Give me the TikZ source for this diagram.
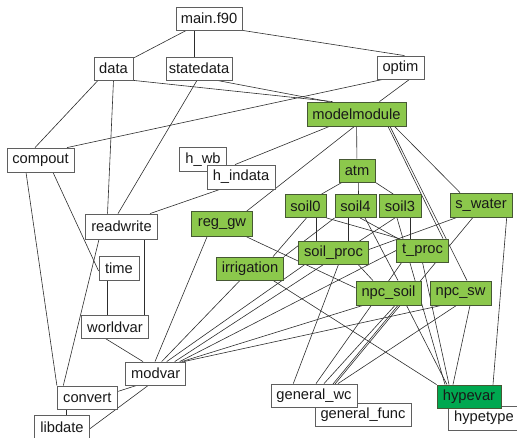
\documentclass[tikz,border=0pt]{standalone}
\usepackage{fontspec}
\setmainfont{Liberation Sans}
\pgfdeclarelayer{background}
\pgfsetlayers{background,main}
\definecolor{procgreen}{RGB}{140,200,76}
\definecolor{coregreen}{RGB}{0,168,80}
\definecolor{greenedge}{RGB}{70,88,52}
\definecolor{boxgray}{RGB}{95,95,95}
\definecolor{linecol}{RGB}{45,45,45}
\definecolor{textcol}{RGB}{25,25,25}
\newcommand{\modfont}{\fontsize{14.7}{16}\selectfont}
\tikzset{
  mod/.style={draw=boxgray, fill=white, line width=0.8pt, inner sep=0pt,
    minimum height=23pt, font=\modfont, text=textcol},
  proc/.style={mod, fill=procgreen, draw=greenedge},
  core/.style={mod, fill=coregreen, draw=greenedge},
  link/.style={draw=linecol, line width=0.6pt},
}
\begin{document}
\begin{tikzpicture}[x=1pt,y=-1pt]
\useasboundingbox (0,0) rectangle (517,438);

% ---- modules ----
\node[mod, minimum width=66pt] (main) at (209,18.5) {main.f90};
\node[mod, minimum width=39pt] (data) at (113.5,68.5) {data};
\node[mod, minimum width=66pt] (statedata) at (199,68.5) {statedata};
\node[mod, minimum width=47pt] (optim) at (400.5,67.5) {optim};
\node[proc, minimum width=99pt, minimum height=24pt] (modelmodule) at (356.5,114) {modelmodule};
\node[mod, minimum width=67pt, minimum height=24pt] (compout) at (40.5,160) {compout};
\node[mod, minimum width=47pt, minimum height=24pt] (h_wb) at (203,159.5) {h\_wb};
\node[mod, minimum width=68pt, minimum height=24pt] (h_indata) at (241,177) {h\_indata};
\node[proc, minimum width=36pt] (atm) at (357,170.5) {atm};
\node[proc, minimum width=41pt] (soil0) at (305.5,206) {soil0};
\node[proc, minimum width=41pt] (soil4) at (355.5,206) {soil4};
\node[proc, minimum width=42pt] (soil3) at (400,206) {soil3};
\node[proc, minimum width=62pt, minimum height=24pt] (s_water) at (481,205) {s\_water};
\node[proc, minimum width=61pt, minimum height=25pt] (reg_gw) at (222,224) {reg\_gw};
\node[mod, minimum width=72pt, minimum height=25pt] (readwrite) at (121.5,226.5) {readwrite};
\node[proc, minimum width=67pt] (irrigation) at (250,268.5) {irrigation};
\node[proc, minimum width=70pt] (soil_proc) at (333.5,252.5) {soil\_proc};
\node[proc, minimum width=52pt] (t_proc) at (422.5,250.5) {t\_proc};
\node[mod, minimum width=40pt, minimum height=24pt] (time) at (119,268) {time};
\node[proc, minimum width=65pt, minimum height=24pt] (npc_soil) at (388.5,293) {npc\_soil};
\node[proc, minimum width=61pt, minimum height=24pt] (npc_sw) at (460.5,293) {npc\_sw};
\node[mod, minimum width=67pt] (worldvar) at (115,327) {worldvar};
\node[mod, minimum width=60pt] (modvar) at (155.7,373.5) {modvar};
\node[mod, minimum width=60pt] (convert) at (87.3,397.5) {convert};
\node[mod, minimum width=55pt, minimum height=24pt] (libdate) at (62,427) {libdate};
\node[mod, minimum width=96pt] (general_func) at (363,414.5) {general\_func};
\node[mod, minimum width=86pt] (general_wc) at (314,395.5) {general\_wc};
\node[mod, minimum width=72pt, minimum height=24pt] (hypetype) at (484,418) {hypetype};
\node[core, minimum width=64pt] (hypevar) at (469,396.5) {hypevar};

% ---- use relations ----
\begin{pgfonlayer}{background}
\draw[link] (main) -- (data);
\draw[link] ([xshift=-15pt]main.south) -- ([xshift=-5pt]statedata.north);
\draw[link] (main.south east) -- ([xshift=4pt]optim.north);
\draw[link] ([xshift=-15.5pt]data.south) -- ([xshift=-5.5pt]compout.north);
\draw[link] (data.south) -- ([xshift=-14pt]readwrite.north);
\draw[link] (data.south east) -- ([xshift=-24pt]modelmodule.north);
\draw[link] ([xshift=18pt]statedata.south) -- ([xshift=-28pt]modelmodule.north);
\draw[link] ([xshift=-2pt]statedata.south) -- ([xshift=-3.5pt]readwrite.north);
\draw[link] ([xshift=-17.5pt]optim.south) -- ([xshift=26.5pt]compout.north);
\draw[link] ([xshift=9pt]optim.south) -- ([xshift=23pt]modelmodule.north);
\draw[link] ([xshift=-14.5pt]compout.south) -- (convert.north west);
\draw[link] ([xshift=12.5pt]compout.south) -- ([yshift=-3pt]time.west);
\draw[link] ([xshift=-22.5pt]readwrite.south) -- ([xshift=-24pt]convert.north);
\draw[link] ([xshift=22.5pt]readwrite.south) -- ([xshift=29pt]worldvar.north);
\draw[link] ([xshift=-12pt]time.south) -- ([xshift=-8pt]worldvar.north);
\draw[link] ([xshift=-9pt]worldvar.south) -- ([xshift=-12.7pt]modvar.north);
\draw[link] ([xshift=-19pt]modvar.south) -- ([yshift=6pt]convert.east);
\draw[link] ([xshift=-7.4pt]modvar.south) -- ([yshift=-1.7pt]libdate.east);
\draw[link] ([xshift=-20.6pt]convert.south) -- ([xshift=4.7pt]libdate.north);
\draw[link] ([xshift=-27pt]modelmodule.south) -- ([xshift=-6pt]h_indata.north);
\draw[link] ([xshift=-21pt]h_indata.south) -- ([xshift=28.5pt]readwrite.north);
\draw[link] ([xshift=-2pt]modelmodule.south) -- ([xshift=24.7pt]reg_gw.north);
\draw[link] (modelmodule) -- (atm);
\draw[link] ([xshift=38pt]modelmodule.south) -- ([xshift=-21pt]s_water.north);
\draw[link] ([xshift=31.5pt]modelmodule.south) -- ([xshift=20.5pt]t_proc.north);
\draw[link] ([xshift=33.5pt]modelmodule.south) -- ([xshift=6.5pt]npc_sw.north);
\draw[link] ([xshift=-15pt]atm.south) -- ([xshift=16pt]soil0.north);
\draw[link] ([xshift=1.3pt]atm.south) -- ([xshift=3pt]soil4.north);
\draw[link] (atm.south east) -- ([xshift=-6.7pt]soil3.north);
\draw[link] ([xshift=11pt]soil0.south) -- ([xshift=-17pt]soil_proc.north);
\draw[link] (soil0.south east) -- ([xshift=3pt]t_proc.north west);
\draw[link] ([xshift=1pt]soil0.south) -- ([xshift=23pt]irrigation.north);
\draw[link] ([xshift=-7.5pt]soil4.south) -- ([xshift=14.5pt]soil_proc.north);
\draw[link] ([xshift=4.5pt]soil4.south) -- ([xshift=2pt]t_proc.north west);
\draw[link] ([xshift=9.5pt]soil4.south) -- ([xshift=9.5pt]npc_soil.north);
\draw[link] (soil4.south west) -- (irrigation.north east);
\draw[link] ([xshift=-5pt]soil3.south) -- ([xshift=19pt]modvar.north);
\draw[link] ([xshift=10pt]soil3.south) -- ([xshift=-12.5pt]t_proc.north);
\draw[link] ([xshift=-3pt]soil3.south) -- ([xshift=-24pt]hypevar.north);
\draw[link] (t_proc.south) -- ([xshift=-20pt]hypevar.north);
\draw[link] ([xshift=-24pt]s_water.south) -- ([yshift=3pt]soil_proc.east);
\draw[link] ([xshift=-8pt]s_water.south) -- ([xshift=-43.4pt]general_func.north);
\draw[link] ([xshift=25.7pt]s_water.south) -- ([xshift=24pt]hypevar.north);
\draw[link] ([xshift=-15pt]reg_gw.south) -- ([xshift=-0.7pt]modvar.north);
\draw[link] ([xshift=24.7pt]reg_gw.south) -- ([yshift=5pt]npc_soil.west);
\draw[link] ([xshift=-10pt]irrigation.south) -- ([xshift=6pt]modvar.north);
\draw[link] ([xshift=23pt]irrigation.south) -- (hypevar.north west);
\draw[link] ([xshift=24.5pt]soil_proc.south) -- ([xshift=-15.5pt]npc_soil.north);
\draw[link] ([xshift=5pt]soil_proc.south) -- ([xshift=-20.7pt]general_wc.north);
\draw[link] ([xshift=-28.5pt]soil_proc.south) -- ([xshift=11pt]modvar.north);
\draw[link] (t_proc.west) -- ([xshift=24pt]modvar.north);
\draw[link] ([xshift=-25.5pt]npc_soil.south) -- ([xshift=26pt]modvar.north);
\draw[link] ([xshift=-19pt]npc_sw.south) -- ([xshift=28pt]modvar.north);
\draw[link] ([xshift=-20.8pt]t_proc.south) -- ([xshift=2pt]general_wc.north);
\draw[link] ([xshift=6.5pt]npc_soil.south) -- ([xshift=10pt]general_wc.north);
\draw[link] ([xshift=9.5pt]npc_soil.south) -- ([xshift=3pt]general_func.north west);
\draw[link] ([xshift=-4pt]npc_sw.south) -- ([xshift=24pt]general_wc.north);
\draw[link] ([xshift=18pt]npc_soil.south) -- ([xshift=-22pt]hypevar.north);
\draw[link] ([xshift=9.5pt]npc_sw.south) -- ([xshift=-16pt]hypevar.north);
\end{pgfonlayer}
\end{tikzpicture}
\end{document}
